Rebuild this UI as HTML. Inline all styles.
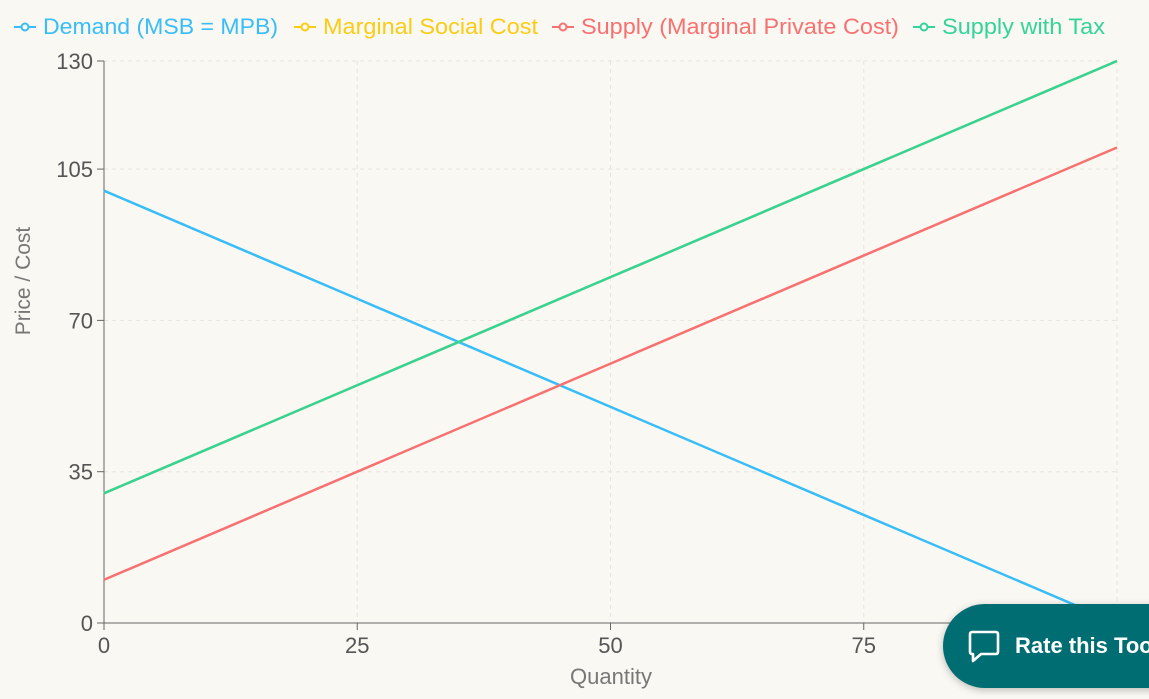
<!DOCTYPE html>
<html><head><meta charset="utf-8"><style>
html,body{margin:0;padding:0;background:#faf8f2;width:1149px;height:699px;overflow:hidden;font-family:"Liberation Sans",sans-serif}
svg{position:absolute;left:0;top:0}
#rate{position:absolute;left:943px;top:604px;width:260px;height:84px;border-radius:42px;background:#006d72;box-shadow:0 2px 8px rgba(0,0,0,.25);color:#fff;font-weight:bold;font-size:22px;line-height:84px;white-space:nowrap}
</style></head><body>
<svg id="chart" width="1149" height="699"></svg>
<div id="rate">
<svg width="40" height="40" style="left:24px;top:24px"><path d="M5 4h24a2 2 0 0 1 2 2v18a2 2 0 0 1-2 2H14l-8 7v-7H5a2 2 0 0 1-2-2V6a2 2 0 0 1 2-2z" fill="none" stroke="#fff" stroke-width="2.6" stroke-linejoin="round"/></svg>
<span style="position:absolute;left:72px">Rate this Tool</span></div>
<script>
const xVals=[0,25,50,75,100];
const demand=[100,75,50,25,0];
const msc=[30,55,80,105,130];
const supply=[10,35,60,85,110];
const tax=[30,55,80,105,130];
const xTicks=[0,25,50,75];
const yTicks=[0,35,70,105,130];
const seriesNames=["Demand (MSB = MPB)","Marginal Social Cost","Supply (Marginal Private Cost)","Supply with Tax"];
const colors=["#38bdf8","#facc15","#f87171","#34d399"];
const NS="http://www.w3.org/2000/svg";
const svg=document.getElementById('chart');
const X=v=>104+v*10.13, Y=v=>623-v*4.323;
function mk(t,a,p){const e=document.createElementNS(NS,t);for(const k in a)e.setAttribute(k,a[k]);(p||svg).appendChild(e);return e;}
yTicks.forEach(t=>{if(t>0){const g=mk('line',{x1:104,x2:1117,y1:Y(t),y2:Y(t),stroke:'#e6e4dc','stroke-dasharray':'4 4'});

}});
xTicks.concat([100]).forEach(t=>{if(t>0){const g=mk('line',{x1:X(t),x2:X(t),y1:61,y2:623,stroke:'#e6e4dc','stroke-dasharray':'4 4'});

}});
const ax=mk('line',{x1:104,x2:104,y1:61,y2:623,stroke:'#666'});


const axx=mk('line',{x1:104,x2:1117,y1:623,y2:623,stroke:'#666'});


yTicks.forEach(t=>{mk('line',{x1:97,x2:104,y1:Y(t),y2:Y(t),stroke:'#666'});
const l=mk('text',{x:93,y:Y(t)+8,'text-anchor':'end','font-size':22,fill:'#555'});l.textContent=t;

});
xTicks.forEach(t=>{mk('line',{x1:X(t),x2:X(t),y1:623,y2:630,stroke:'#666'});
const l=mk('text',{x:X(t),y:653,'text-anchor':'middle','font-size':22,fill:'#555'});l.textContent=t;

});
const xt=mk('text',{x:611,y:684,'text-anchor':'middle','font-size':22,fill:'#777'});xt.textContent='Quantity';


const yt=mk('text',{x:30,y:281,'text-anchor':'middle','font-size':21,fill:'#777',transform:'rotate(-90 30 281)'});yt.textContent='Price / Cost';


[demand,msc,supply,tax].forEach((s,i)=>{
const p=mk('polyline',{points:xVals.map((x,j)=>X(x)+','+Y(s[j])).join(' '),fill:'none',stroke:colors[i],'stroke-width':2.5});

});
const lx=[14,294,552,913];
const lw=[235,215,318,163];
seriesNames.forEach((n,i)=>{
const g=mk('g',{});


mk('line',{x1:lx[i],x2:lx[i]+22,y1:27,y2:27,stroke:colors[i],'stroke-width':2},g);
mk('circle',{cx:lx[i]+11,cy:27,r:3.5,fill:'#faf8f2',stroke:colors[i],'stroke-width':2},g);
const t=mk('text',{x:lx[i]+29,y:34,'font-size':22,fill:colors[i],textLength:lw[i],lengthAdjust:'spacingAndGlyphs'},g);t.textContent=n;});
</script>
</body></html>
